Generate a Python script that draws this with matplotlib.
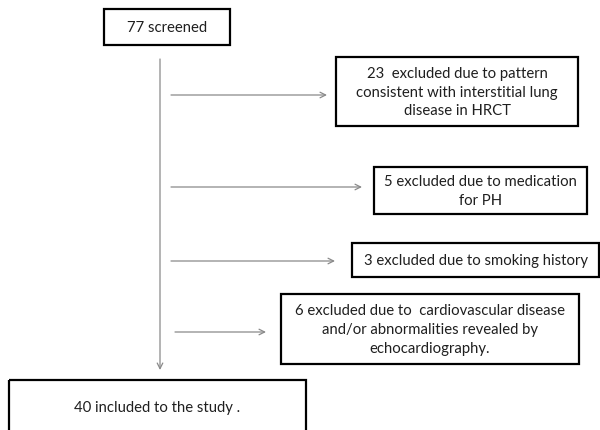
import matplotlib.pyplot as plt
from matplotlib.patches import Rectangle

plt.rcParams['font.family'] = ['Lato', 'DejaVu Sans']

# flow chart content
screened_label = '77 screened'
excluded_labels = [
    '23  excluded due to pattern\nconsistent with interstitial lung\ndisease in HRCT',
    '5 excluded due to medication\nfor PH',
    '3 excluded due to smoking history',
    '6 excluded due to  cardiovascular disease\nand/or abnormalities revealed by\nechocardiography.',
]
included_label = '40 included to the study .'

# layout in pixels (x0, y0, x1, y1)
screened_box = (104, 10, 230, 46)
excluded_boxes = [
    (336, 58, 578, 127),
    (374, 168, 587, 215),
    (352, 244, 599, 278),
    (281, 295, 579, 365),
]
arrow_spans = [(171, 327, 96), (171, 362, 188), (171, 335, 262), (175, 266, 333)]
included_box = (9, 381, 306, 440)
trunk_x = 160

fig = plt.figure(figsize=(6.0, 4.31), dpi=100)
ax = fig.add_axes([0, 0, 1, 1])
ax.set_xlim(0, 600)
ax.set_ylim(431, 0)
ax.axis('off')

text_color = '#1f1f1f'
line_color = '#8a8a8a'


def draw_box(box, label, cy=None):
    x0, y0, x1, y1 = box
    ax.add_patch(Rectangle((x0, y0), x1 - x0, y1 - y0, fill=False,
                           edgecolor='black', linewidth=1.6))
    if cy is None:
        cy = (y0 + y1) / 2
    ax.text((x0 + x1) / 2, cy, label, ha='center', va='center',
            fontsize=10.7, color=text_color, linespacing=1.42)


draw_box(screened_box, screened_label)
for box, label in zip(excluded_boxes, excluded_labels):
    draw_box(box, label)
draw_box(included_box, included_label, cy=408)

# main vertical arrow
ax.annotate('', xy=(trunk_x, 371), xytext=(trunk_x, 60),
            arrowprops=dict(arrowstyle='->', color=line_color, lw=0.9,
                            shrinkA=0, shrinkB=0))

for x0, x1, y in arrow_spans:
    ax.annotate('', xy=(x1, y), xytext=(x0, y),
                arrowprops=dict(arrowstyle='->', color=line_color, lw=0.9,
                                shrinkA=0, shrinkB=0))

fig.savefig('out.png', dpi=100)
